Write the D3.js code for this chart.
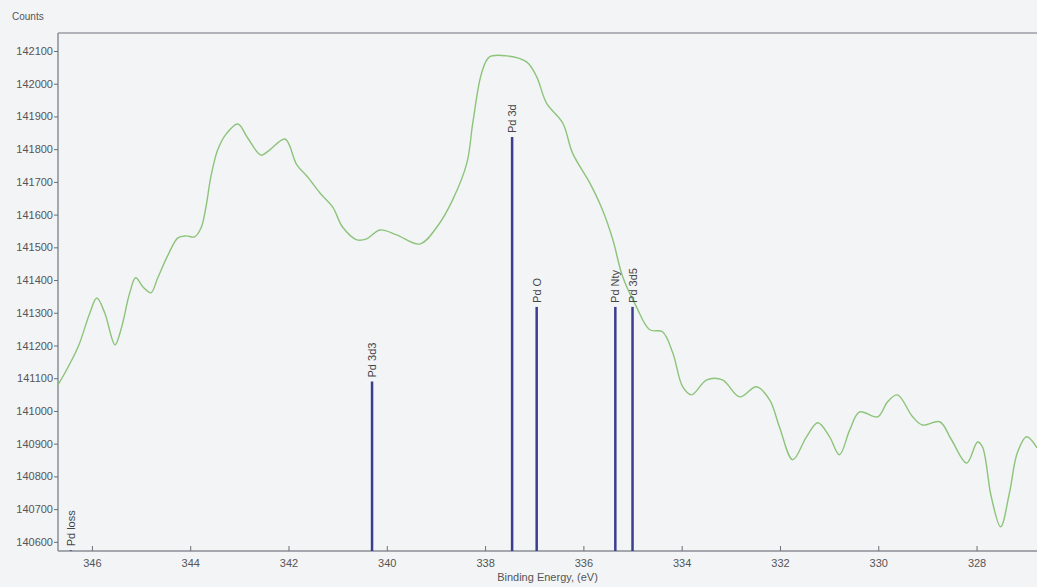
<!DOCTYPE html>
<html>
<head>
<meta charset="utf-8">
<script src="https://cdn.jsdelivr.net/npm/d3@7"></script>
<style>
  body { margin: 0; background: #f3f4f6; }
  svg { display: block; font-family: "Liberation Sans", Arial, sans-serif; }
</style>
</head>
<body>
<div id="container"></div>
<script>
// spectrum trace (binding energy eV, counts)
const energy = [346.69, 346.55, 346.28, 346.04, 345.90, 345.74, 345.53, 345.41, 345.23, 345.11,
  344.96, 344.80, 344.66, 344.45, 344.25, 344.09, 343.91, 343.78, 343.68, 343.58,
  343.44, 343.27, 343.03, 342.83, 342.56, 342.38, 342.07, 341.83, 341.61, 341.36,
  341.10, 340.90, 340.61, 340.41, 340.14, 339.80, 339.33, 338.98, 338.66, 338.37,
  338.25, 338.07, 337.91, 337.56, 337.15, 336.95, 336.75, 336.42, 336.22, 335.87,
  335.61, 335.40, 335.20, 334.92, 334.65, 334.39, 334.18, 333.98, 333.80, 333.49,
  333.17, 332.82, 332.48, 332.21, 332.01, 331.74, 331.46, 331.23, 330.99, 330.79,
  330.58, 330.38, 330.01, 329.81, 329.61, 329.30, 329.10, 328.75, 328.51, 328.20,
  327.98, 327.88, 327.70, 327.51, 327.33, 327.17, 326.98, 326.77];
const counts = [141080, 141116, 141196, 141300, 141345, 141300, 141202, 141248, 141361, 141407,
  141379, 141361, 141407, 141477, 141529, 141535, 141532, 141559, 141623, 141715,
  141798, 141846, 141877, 141834, 141782, 141798, 141831, 141752, 141715, 141666,
  141623, 141562, 141523, 141526, 141553, 141538, 141510, 141562, 141645, 141758,
  141880, 142033, 142082, 142085, 142066, 142021, 141941, 141880, 141788, 141697,
  141614, 141523, 141410, 141318, 141248, 141242, 141177, 141074, 141049, 141095,
  141095, 141043, 141074, 141034, 140951, 140851, 140921, 140964, 140921, 140866,
  140942, 140997, 140982, 141028, 141049, 140982, 140957, 140967, 140912, 140841,
  140905, 140890, 140737, 140646, 140750, 140872, 140921, 140887];

// reference peak markers
const peakNames = ["Pd loss", "Pd 3d3", "Pd 3d", "Pd O", "Pd Nty", "Pd 3d5"];
const peakEnergy = [346.43, 340.3, 337.45, 336.95, 335.35, 335.0];
const peakCounts = [140574, 141090, 141837, 141318, 141318, 141318];

const xTicks = [346, 344, 342, 340, 338, 336, 334, 332, 330, 328];
const yTicks = [140600, 140700, 140800, 140900, 141000, 141100, 141200, 141300,
  141400, 141500, 141600, 141700, 141800, 141900, 142000, 142100];

const width = 1037, height = 587;
const margin = { top: 33, right: 0, bottom: 36, left: 58 };

const svg = d3.select("#container").append("svg")
  .attr("width", width)
  .attr("height", height);

const x = d3.scaleLinear()
  .domain([346.69, 326.77])
  .range([margin.left, width - margin.right]);

const y = d3.scaleLinear()
  .domain([140572, 142155])
  .range([height - margin.bottom, margin.top]);

// frame: top line and axes
svg.append("line")
  .attr("x1", margin.left).attr("x2", width)
  .attr("y1", margin.top).attr("y2", margin.top)
  .attr("stroke", "#9a9ea4").attr("stroke-width", 1.5);

const xAxis = svg.append("g")
  .attr("transform", `translate(0,${height - margin.bottom})`)
  .call(d3.axisBottom(x).tickValues(xTicks).tickSizeInner(-5).tickSizeOuter(0).tickPadding(8));

const yAxis = svg.append("g")
  .attr("transform", `translate(${margin.left},0)`)
  .call(d3.axisLeft(y).tickValues(yTicks).tickSizeInner(4).tickSizeOuter(0).tickPadding(1)
    .tickFormat(d3.format("d")));

[xAxis, yAxis].forEach(g => {
  g.select(".domain").attr("stroke", "#8a8e94").attr("stroke-width", 1.5);
  g.selectAll(".tick line").attr("stroke", "#6a6e74");
  g.selectAll("text").attr("fill", "#555").attr("font-size", 11)
    .attr("font-family", "'Liberation Sans', Arial, sans-serif");
});
xAxis.select(".domain").attr("d", `M${margin.left},0H${width}`);
yAxis.select(".domain").attr("d", `M0,${margin.top}V${height - margin.bottom}`);

svg.append("text")
  .attr("x", 12).attr("y", 20)
  .attr("font-size", 10).attr("fill", "#555")
  .text("Counts");

svg.append("text")
  .attr("x", (margin.left + width) / 2).attr("y", 581)
  .attr("text-anchor", "middle")
  .attr("font-size", 11).attr("fill", "#555")
  .text("Binding Energy, (eV)");

// spectrum
const spectrum = energy.map((e, i) => [e, counts[i]]);
svg.append("path")
  .datum(spectrum)
  .attr("fill", "none")
  .attr("stroke", "#8cc47a")
  .attr("stroke-width", 1.4)
  .attr("d", d3.line().x(d => x(d[0])).y(d => y(d[1])).curve(d3.curveCatmullRom));

// peak markers
const peaks = peakNames.map((n, i) => ({ name: n, e: peakEnergy[i], c: peakCounts[i] }));
svg.append("g").selectAll("line")
  .data(peaks)
  .join("line")
  .attr("x1", d => x(d.e)).attr("x2", d => x(d.e))
  .attr("y1", d => y(d.c)).attr("y2", y(140572))
  .attr("stroke", "#3d3d8f")
  .attr("stroke-width", 2.5);

svg.append("g").selectAll("text")
  .data(peaks)
  .join("text")
  .attr("transform", d => `translate(${x(d.e) + 4},${y(d.c) - 4}) rotate(-90)`)
  .attr("font-size", 11)
  .attr("fill", "#444")
  .text(d => d.name);
</script>
</body>
</html>
